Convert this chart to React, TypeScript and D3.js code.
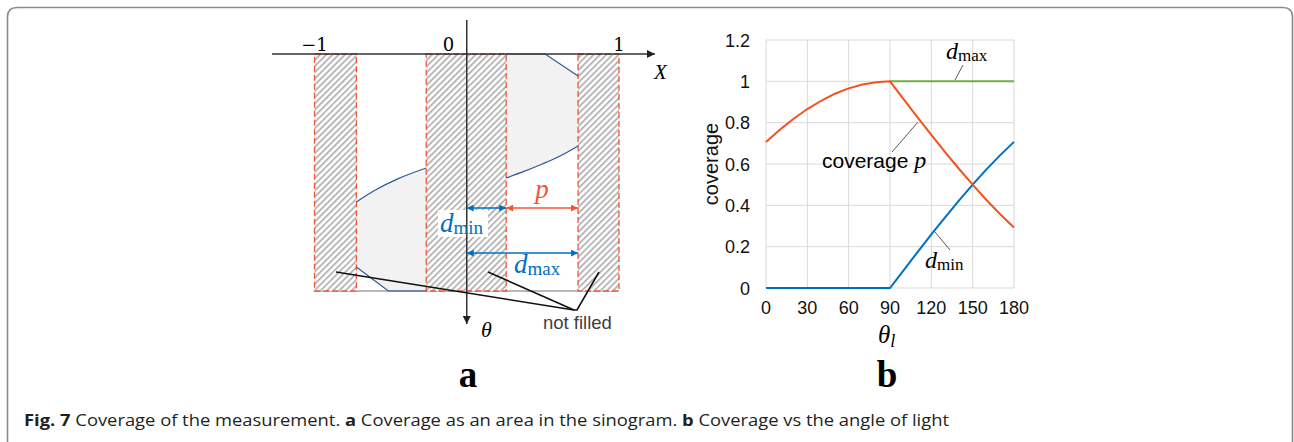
import React from "react";
import * as d3 from "d3";

// ---------- Panel a (sinogram diagram) data, in diagram units ----------
const stripeBands: [number, number][] = [
  [-1, -0.725],
  [-0.266, 0.259],
  [0.731, 1],
];
const xTickLabels = ["−1", "0", "1"];
const xTickPos = [-1, -0.12, 1];

const regionATop: [number, number][] = [
  [0.259, 0],
  [0.515, 0],
  [0.731, 0.093],
];
const regionACurve: [number, number][] = [
  [0.731, 0.388],
  [0.62, 0.428],
  [0.5, 0.463],
  [0.38, 0.494],
  [0.259, 0.523],
];
const regionBCurve: [number, number][] = [
  [-0.725, 0.624],
  [-0.6, 0.574],
  [-0.45, 0.526],
  [-0.266, 0.481],
];
const regionBBottom: [number, number][] = [
  [-0.725, 0.899],
  [-0.515, 1],
  [-0.266, 1],
];

// ---------- Panel b (coverage vs angle) data ----------
const thetaDeg = [0, 10, 20, 30, 40, 50, 60, 70, 80, 90, 100, 110, 120, 130, 140, 150, 160, 170, 180];
const coverageP = [0.707, 0.766, 0.819, 0.866, 0.906, 0.94, 0.966, 0.985, 0.996, 1.0, 0.913, 0.826, 0.741, 0.658, 0.577, 0.5, 0.426, 0.357, 0.293];
const dMinVals = [0, 0, 0, 0, 0, 0, 0, 0, 0, 0, 0.087, 0.174, 0.259, 0.342, 0.423, 0.5, 0.574, 0.643, 0.707];
const dMaxTheta = [90, 120, 150, 180];
const dMaxVals = [1, 1, 1, 1];
const xTicksB = [0, 30, 60, 90, 120, 150, 180];
const yTicksB = [0, 0.2, 0.4, 0.6, 0.8, 1, 1.2];

const SERIF = "'Liberation Serif', 'DejaVu Serif', serif";
const WIDE_SERIF = "'DejaVu Serif', 'Liberation Serif', serif";
const SANS = "'Liberation Sans', Arial, sans-serif";
const RED = "#f2553a";
const BLUE = "#0070c0";
const DARKBLUE = "#2f5597";
const ORANGE = "#f4511e";
const GREEN = "#70ad47";

export default function App() {
  const xa = d3.scaleLinear().domain([-1, 1]).range([314.5, 619]);
  const ya = d3.scaleLinear().domain([0, 1]).range([54, 291]);
  const lineA = d3.line<[number, number]>().x((d) => xa(d[0])).y((d) => ya(d[1]));
  const curveA = d3
    .line<[number, number]>()
    .x((d) => xa(d[0]))
    .y((d) => ya(d[1]))
    .curve(d3.curveMonotoneX);

  const regionAPath =
    "M" +
    regionATop.map((p) => `${xa(p[0])},${ya(p[1])}`).join("L") +
    "L" +
    regionACurve.map((p) => `${xa(p[0])},${ya(p[1])}`).join("L") +
    "Z";
  const regionBPath =
    "M" +
    regionBCurve.map((p) => `${xa(p[0])},${ya(p[1])}`).join("L") +
    "L" +
    [...regionBBottom].reverse().map((p) => `${xa(p[0])},${ya(p[1])}`).join("L") +
    "Z";

  const arrowY1 = ya(0.65);
  const arrowY2 = ya(0.84);

  const xb = d3.scaleLinear().domain([0, 180]).range([766, 1014]);
  const yb = d3.scaleLinear().domain([0, 1.2]).range([288, 40]);
  const lineB = d3
    .line<number>()
    .x((_, i) => xb(thetaDeg[i]))
    .y((d) => yb(d));
  const lineDMax = d3
    .line<number>()
    .x((_, i) => xb(dMaxTheta[i]))
    .y((d) => yb(d));

  return (
    <svg
      width={1294}
      height={442}
      style={{ position: "absolute", left: 0, top: 0, background: "#fff" }}
    >
      <defs>
        <pattern
          id="hatch"
          width={4.4}
          height={4.4}
          patternUnits="userSpaceOnUse"
          patternTransform="rotate(45)"
        >
          <rect width={4.4} height={4.4} fill="#fff" />
          <line x1={1} y1={0} x2={1} y2={4.4} stroke="#b0b0b0" strokeWidth={1.7} />
        </pattern>
        <marker id="arrBlue" viewBox="0 0 10 10" refX={10} refY={5} markerWidth={9} markerHeight={7} markerUnits="userSpaceOnUse" orient="auto-start-reverse">
          <path d="M0,0 L10,5 L0,10 Z" fill={BLUE} />
        </marker>
        <marker id="arrRed" viewBox="0 0 10 10" refX={10} refY={5} markerWidth={9} markerHeight={7} markerUnits="userSpaceOnUse" orient="auto-start-reverse">
          <path d="M0,0 L10,5 L0,10 Z" fill={RED} />
        </marker>
        <marker id="arrBlack" viewBox="0 0 10 10" refX={10} refY={5} markerWidth={9} markerHeight={8} markerUnits="userSpaceOnUse" orient="auto">
          <path d="M0,0 L10,5 L0,10 Z" fill="#222" />
        </marker>
      </defs>

      <path
        d="M7.5,442 V17 Q7.5,7.5 17,7.5 H1283 Q1292.5,7.5 1292.5,17 V442"
        fill="none"
        stroke="#8a8a8a"
        strokeWidth={1.6}
      />

      {/* ===== Panel a ===== */}
      <g>
        <path d={regionAPath} fill="#f2f2f2" />
        <path d={regionBPath} fill="#f2f2f2" />

        <line x1={xa(-1)} x2={xa(1)} y1={ya(1)} y2={ya(1)} stroke="#a0a0a0" strokeWidth={1.3} />

        {stripeBands.map((b, i) => (
          <rect
            key={i}
            x={xa(b[0])}
            y={ya(0)}
            width={xa(b[1]) - xa(b[0])}
            height={ya(1) - ya(0)}
            fill="url(#hatch)"
            stroke={RED}
            strokeWidth={1.3}
            strokeDasharray="6 3"
          />
        ))}

        <path d={lineA(regionATop) || ""} fill="none" stroke={DARKBLUE} strokeWidth={1.2} />
        <path d={curveA(regionACurve.slice().reverse()) || ""} fill="none" stroke={DARKBLUE} strokeWidth={1.2} />
        <path d={curveA(regionBCurve) || ""} fill="none" stroke={DARKBLUE} strokeWidth={1.2} />
        <path d={lineA(regionBBottom) || ""} fill="none" stroke={DARKBLUE} strokeWidth={1.2} />

        <rect x={438} y={210} width={50} height={27} fill="#fff" />

        <line x1={272} x2={655} y1={ya(0)} y2={ya(0)} stroke="#333" strokeWidth={1.5} markerEnd="url(#arrBlack)" />
        <line x1={xa(0)} x2={xa(0)} y1={20} y2={324} stroke="#333" strokeWidth={1.5} markerEnd="url(#arrBlack)" />

        {xTickLabels.map((t, i) => (
          <text key={t} x={xa(xTickPos[i])} y={51} textAnchor="middle" fontFamily={WIDE_SERIF} fontSize={18} fill="#000">
            {t}
          </text>
        ))}
        <text x={654} y={79} fontFamily={SERIF} fontStyle="italic" fontSize={21} fill="#000">X</text>
        <text x={481} y={337} fontFamily={SERIF} fontStyle="italic" fontSize={22} fill="#000">θ</text>

        <line x1={xa(0)} x2={xa(0.259)} y1={arrowY1} y2={arrowY1} stroke={BLUE} strokeWidth={1.5} markerStart="url(#arrBlue)" markerEnd="url(#arrBlue)" />
        <line x1={xa(0.259)} x2={xa(0.731)} y1={arrowY1} y2={arrowY1} stroke={RED} strokeWidth={1.5} markerStart="url(#arrRed)" markerEnd="url(#arrRed)" />
        <line x1={xa(0)} x2={xa(0.731)} y1={arrowY2} y2={arrowY2} stroke={BLUE} strokeWidth={1.5} markerStart="url(#arrBlue)" markerEnd="url(#arrBlue)" />

        <text x={(xa(0.259) + xa(0.731)) / 2} y={198} textAnchor="middle" fontFamily={SERIF} fontStyle="italic" fontSize={27} fill={RED}>p</text>
        <text x={440} y={232} fontFamily={SERIF} fill={BLUE}>
          <tspan fontStyle="italic" fontSize={27}>d</tspan>
          <tspan fontSize={19} dy={2}>min</tspan>
        </text>
        <text x={514} y={273} fontFamily={SERIF} fill={BLUE}>
          <tspan fontStyle="italic" fontSize={27}>d</tspan>
          <tspan fontSize={19} dy={2}>max</tspan>
        </text>

        <g stroke="#111" strokeWidth={1.6} fill="none">
          <line x1={336} y1={272} x2={574} y2={310} />
          <line x1={488} y1={272} x2={574} y2={310} />
          <polyline points="574,310 577,310 599,272" />
        </g>
        <text x={543} y={329} fontFamily={SANS} fontSize={18.5} fill="#404040">not filled</text>

        <text x={468} y={387} textAnchor="middle" fontFamily={SERIF} fontWeight="bold" fontSize={37} fill="#000">a</text>
      </g>

      {/* ===== Panel b ===== */}
      <g>
        {xTicksB.map((t) => (
          <line key={"gx" + t} x1={xb(t)} x2={xb(t)} y1={yb(1.2)} y2={yb(0)} stroke="#d9d9d9" strokeWidth={1} />
        ))}
        {yTicksB.map((t) => (
          <line key={"gy" + t} x1={xb(0)} x2={xb(180)} y1={yb(t)} y2={yb(t)} stroke="#d9d9d9" strokeWidth={1} />
        ))}
        {yTicksB.map((t) => (
          <text key={"ty" + t} x={750} y={yb(t) + 6.5} textAnchor="end" fontFamily={SANS} fontSize={18} fill="#111">
            {d3.format("~g")(t)}
          </text>
        ))}
        {xTicksB.map((t) => (
          <text key={"tx" + t} x={xb(t)} y={314} textAnchor="middle" fontFamily={SANS} fontSize={18} fill="#111">
            {t}
          </text>
        ))}
        <text
          transform={`translate(718,${(yb(0) + yb(1.2)) / 2}) rotate(-90)`}
          textAnchor="middle"
          fontFamily={SANS}
          fontSize={20}
          fill="#111"
        >
          coverage
        </text>
        <text x={878} y={343} fontFamily={SERIF} fill="#000">
          <tspan fontStyle="italic" fontSize={25}>θ</tspan>
          <tspan fontStyle="italic" fontSize={18} dy={4}>l</tspan>
        </text>

        <path d={lineDMax(dMaxVals) || ""} fill="none" stroke={GREEN} strokeWidth={2} />
        <path d={lineB(dMinVals) || ""} fill="none" stroke={BLUE} strokeWidth={2} />
        <path d={lineB(coverageP) || ""} fill="none" stroke={ORANGE} strokeWidth={2} />

        <g stroke="#595959" strokeWidth={1}>
          <line x1={955} y1={80} x2={963} y2={65} />
          <line x1={892} y1={152} x2={918} y2={122} />
          <line x1={935} y1={232} x2={950} y2={250} />
        </g>
        <text x={946} y={59} fontFamily={SERIF} fill="#000">
          <tspan fontStyle="italic" fontSize={24}>d</tspan>
          <tspan fontSize={17} dy={2}>max</tspan>
        </text>
        <text x={822} y={168} fontFamily={SANS} fontSize={21} fill="#000">
          coverage <tspan fontFamily={SERIF} fontStyle="italic" fontSize={24}>p</tspan>
        </text>
        <text x={925} y={268} fontFamily={SERIF} fill="#000">
          <tspan fontStyle="italic" fontSize={24}>d</tspan>
          <tspan fontSize={17} dy={2}>min</tspan>
        </text>

        <text x={887} y={387} textAnchor="middle" fontFamily={SERIF} fontWeight="bold" fontSize={37} fill="#000">b</text>
      </g>

      <text x={24} y={426} fontFamily="'Open Sans', 'Noto Sans', sans-serif" fontSize={16.5} fill="#231f20" textLength={925} lengthAdjust="spacingAndGlyphs">
        <tspan fontWeight="bold">Fig. 7</tspan> Coverage of the measurement. <tspan fontWeight="bold">a</tspan> Coverage as an area in the sinogram. <tspan fontWeight="bold">b</tspan> Coverage vs the angle of light
      </text>
    </svg>
  );
}
